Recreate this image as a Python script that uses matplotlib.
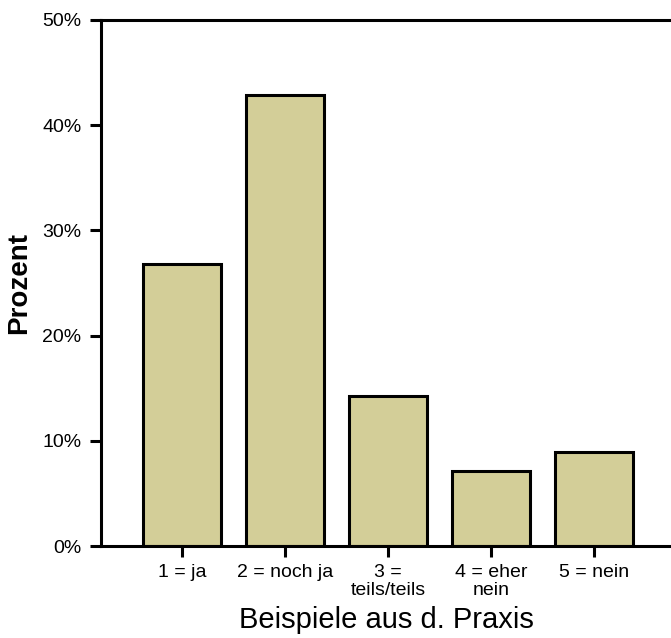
import matplotlib
matplotlib.use("Agg")
import matplotlib.pyplot as plt
from matplotlib.ticker import FuncFormatter

# Data
categories = ['1 = ja', '2 = noch ja', '3 =\nteils/teils', '4 = eher\nnein', '5 = nein']
percent = [26.8, 42.9, 14.3, 7.1, 8.9]

bar_color = '#D3CE98'

fig = plt.figure(figsize=(6.71, 6.38), dpi=100)
ax = fig.add_axes([0.1505, 0.1442, 0.8495, 0.8245])

x = list(range(1, len(categories) + 1))
ax.bar(x, percent, width=0.757, color=bar_color, edgecolor='black', linewidth=2.2, zorder=2)

ax.set_xlim(0.214, 5.748)
ax.set_ylim(0, 50)
ax.set_yticks([0, 10, 20, 30, 40, 50])
ax.yaxis.set_major_formatter(FuncFormatter(lambda v, p: '%d%%' % v))
ax.set_xticks(x)
ax.set_xticklabels(categories, linespacing=1.1)

for s in ['left', 'bottom', 'top']:
    ax.spines[s].set_linewidth(2.2)
ax.spines['right'].set_visible(False)

ax.tick_params(axis='both', direction='out', length=8, width=2.2, colors='black')
ax.tick_params(axis='y', pad=6, labelsize=14)
ax.tick_params(axis='x', pad=5, labelsize=14)
for lab in ax.get_xticklabels() + ax.get_yticklabels():
    lab.set_fontfamily('Liberation Sans')

ax.set_xlabel('Beispiele aus d. Praxis', fontsize=21, family='Liberation Sans', labelpad=5)
ax.set_ylabel('Prozent', fontsize=20, family='Liberation Sans', fontweight='bold', labelpad=7)

fig.savefig('out.png', dpi=100)
